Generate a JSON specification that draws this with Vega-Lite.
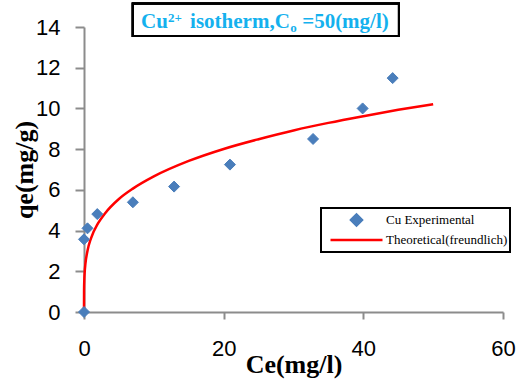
{
  "$schema": "https://vega.github.io/schema/vega-lite/v6.json",
  "width": 419,
  "height": 285,
  "autosize": {"type": "none"},
  "padding": {"left": 84, "top": 27, "right": 19, "bottom": 71},
  "background": "white",
  "config": {"view": {"stroke": null}, "legend": {"strokeWidth": 2}},
  "layer": [
    {
      "data": {"values": [
        {"part": "Cu", "px": 8.17, "py": 13.93, "role": "main"},
        {"part": "2+", "px": 12.04, "py": 14.24, "role": "small"},
        {"part": "isotherm,C", "px": 15.19, "py": 13.93, "role": "main"},
        {"part": "o", "px": 29.52, "py": 13.75, "role": "small"},
        {"part": "=50(mg/l)", "px": 31.24, "py": 13.93, "role": "main"}
      ]},
      "layer": [
        {
          "mark": {"type": "rect", "fill": "transparent", "stroke": "black", "strokeWidth": 2},
          "encoding": {
            "x": {"datum": 6.98, "type": "quantitative"},
            "x2": {"datum": 45.1},
            "y": {"datum": 15.16, "type": "quantitative"},
            "y2": {"datum": 13.56}
          }
        },
        {
          "transform": [{"filter": "datum.role === 'main'"}],
          "mark": {"type": "text", "font": "Liberation Serif", "fontSize": 21, "fontWeight": "bold", "color": "#14b1ee", "align": "left", "baseline": "alphabetic"},
          "encoding": {
            "x": {"field": "px", "type": "quantitative"},
            "y": {"field": "py", "type": "quantitative"},
            "text": {"field": "part"}
          }
        },
        {
          "transform": [{"filter": "datum.role === 'small'"}],
          "mark": {"type": "text", "font": "Liberation Serif", "fontSize": 13, "fontWeight": "bold", "color": "#14b1ee", "align": "left", "baseline": "alphabetic"},
          "encoding": {
            "x": {"field": "px", "type": "quantitative"},
            "y": {"field": "py", "type": "quantitative"},
            "text": {"field": "part"}
          }
        }
      ]
    },
    {
      "data": {"values": [
        {"Ce": 0, "qe": 0},
        {"Ce": 0.01, "qe": 1.07},
        {"Ce": 0.05, "qe": 1.64},
        {"Ce": 0.1, "qe": 1.97},
        {"Ce": 0.2, "qe": 2.36},
        {"Ce": 0.5, "qe": 3.01},
        {"Ce": 1, "qe": 3.62},
        {"Ce": 2, "qe": 4.35},
        {"Ce": 3, "qe": 4.84},
        {"Ce": 5, "qe": 5.55},
        {"Ce": 7, "qe": 6.06},
        {"Ce": 10, "qe": 6.66},
        {"Ce": 15, "qe": 7.42},
        {"Ce": 20, "qe": 8.01},
        {"Ce": 25, "qe": 8.49},
        {"Ce": 30, "qe": 8.92},
        {"Ce": 35, "qe": 9.29},
        {"Ce": 40, "qe": 9.62},
        {"Ce": 45, "qe": 9.93},
        {"Ce": 50, "qe": 10.21}
      ]},
      "mark": {"type": "line", "color": "#ff0000", "strokeWidth": 2.5, "interpolate": "monotone"},
      "encoding": {
        "x": {"field": "Ce", "type": "quantitative", "scale": {"domain": [0, 60], "nice": false}},
        "y": {"field": "qe", "type": "quantitative", "scale": {"domain": [0, 14], "nice": false}}
      }
    },
    {
      "data": {"values": [
        {"Ce": 0, "qe": 0, "series": "Cu Experimental"},
        {"Ce": 0, "qe": 3.57, "series": "Cu Experimental"},
        {"Ce": 0.5, "qe": 4.11, "series": "Cu Experimental"},
        {"Ce": 1.9, "qe": 4.81, "series": "Cu Experimental"},
        {"Ce": 7, "qe": 5.39, "series": "Cu Experimental"},
        {"Ce": 12.9, "qe": 6.16, "series": "Cu Experimental"},
        {"Ce": 20.9, "qe": 7.24, "series": "Cu Experimental"},
        {"Ce": 32.8, "qe": 8.5, "series": "Cu Experimental"},
        {"Ce": 39.9, "qe": 10.0, "series": "Cu Experimental"},
        {"Ce": 44.2, "qe": 11.49, "series": "Cu Experimental"}
      ]},
      "mark": {"type": "point", "filled": false, "fill": "#4a7ebb", "strokeWidth": 1, "opacity": 1},
      "encoding": {
        "x": {
          "field": "Ce", "type": "quantitative",
          "scale": {"domain": [0, 60], "nice": false},
          "axis": {
            "title": "Ce(mg/l)",
            "values": [0, 20, 40, 60],
            "grid": false,
            "domainColor": "#8c8c8c", "domainWidth": 2,
            "tickColor": "#8c8c8c", "tickWidth": 2, "tickSize": 7,
            "labelFont": "Liberation Sans", "labelFontSize": 22, "labelColor": "black",
            "labelBaseline": "alphabetic", "labelPadding": 36,
            "labelFlush": false, "labelOverlap": false,
            "titleFont": "Liberation Serif", "titleFontSize": 26, "titleFontWeight": "bold", "titleColor": "black",
            "titleBaseline": "alphabetic", "titleY": 60
          }
        },
        "y": {
          "field": "qe", "type": "quantitative",
          "scale": {"domain": [0, 14], "nice": false},
          "axis": {
            "title": "qe(mg/g)",
            "values": [0, 2, 4, 6, 8, 10, 12, 14],
            "grid": false,
            "domainColor": "#8c8c8c", "domainWidth": 2,
            "tickColor": "#8c8c8c", "tickWidth": 2, "tickSize": 9,
            "labelFont": "Liberation Sans", "labelFontSize": 22, "labelColor": "black",
            "labelPadding": 15, "labelFlush": false, "labelOverlap": false,
            "titleFont": "Liberation Serif", "titleFontSize": 26, "titleFontWeight": "bold", "titleColor": "black",
            "titleBaseline": "alphabetic", "titleX": -52, "titleY": 142.5, "titleAlign": "center"
          }
        },
        "color": {
          "field": "series", "type": "nominal",
          "scale": {"domain": ["Cu Experimental", "Theoretical(freundlich)"], "range": ["#4a7ebb", "#ff0000"]},
          "legend": {
            "title": null,
            "orient": "none",
            "legendX": 237,
            "legendY": 181,
            "fillColor": "white",
            "strokeColor": "black",
            "padding": 2,
            "rowPadding": -2,
            "clipHeight": 20,
            "symbolFillColor": "#4a7ebb",
            "symbolStrokeWidth": 2.5,
            "symbolOffset": 6,
            "labelOffset": 2,
            "labelLimit": 300,
            "labelFont": "Liberation Serif",
            "labelFontSize": 13,
            "labelColor": "black"
          }
        },
        "shape": {
          "field": "series", "type": "nominal",
          "scale": {"domain": ["Cu Experimental", "Theoretical(freundlich)"], "range": ["diamond", "stroke"]}
        },
        "size": {
          "field": "series", "type": "nominal",
          "scale": {"domain": ["Cu Experimental", "Theoretical(freundlich)"], "range": [121, 2704]}
        }
      }
    }
  ]
}
